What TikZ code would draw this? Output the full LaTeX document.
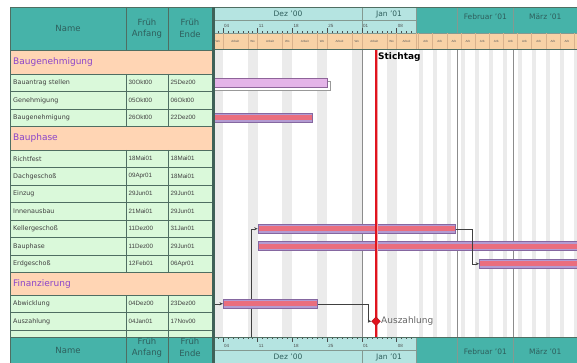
\documentclass[tikz,border=0pt]{standalone}
\usepackage{fontspec}
\setmainfont{DejaVu Sans}
\newfontfamily\datefont{Liberation Sans}
\usetikzlibrary{arrows.meta, positioning, shapes.geometric}

\definecolor{hdrteal}{HTML}{46B3A9}
\definecolor{lightteal}{HTML}{B5E4E1}
\definecolor{grppeach}{HTML}{FFD5B4}
\definecolor{taskgreen}{HTML}{DAF9DA}
\definecolor{dayorange}{HTML}{F8D2A6}
\definecolor{gridline}{HTML}{4F6E62}
\definecolor{splitter}{HTML}{3F6158}
\definecolor{grpviolet}{HTML}{8B45C9}
\definecolor{hdrtxt}{HTML}{2E5E5C}
\definecolor{weekendgrey}{HTML}{EBEBEB}
\definecolor{barlav}{HTML}{E4B4E8}
\definecolor{barline}{HTML}{8E6499}
\definecolor{critlav}{HTML}{B39BD2}
\definecolor{critline}{HTML}{8567A0}
\definecolor{critred}{HTML}{EA6E7E}
\definecolor{deadred}{HTML}{E0141E}

\begin{document}
\begin{tikzpicture}[
    x=1pt, y=-1pt,
    cellline/.style={draw=gridline, line width=0.7pt},
    hdrline/.style={draw=gridline!70, line width=0.6pt},
    hdrtext/.style={text=hdrtxt, font=\fontsize{8.5}{11.5}\selectfont, align=center, inner sep=0pt},
    grptext/.style={text=grpviolet, font=\fontsize{9}{10}\selectfont, anchor=west, inner sep=0pt},
    tasktext/.style={text=black!75, font=\fontsize{6.4}{8}\selectfont, anchor=west, inner sep=0pt},
    datetext/.style={text=black!75, font=\datefont\fontsize{6.2}{7}\selectfont, anchor=west, inner sep=0pt},
    monthtext/.style={text=hdrtxt, font=\fontsize{7.5}{9}\selectfont, inner sep=0pt},
    daynum/.style={text=black!70, font=\datefont\fontsize{4.5}{5}\selectfont, inner sep=0pt},
    dayabbr/.style={text=black!65, font=\datefont\fontsize{3}{3}\selectfont, inner sep=0pt},
    tick/.style={draw=black!70, line width=0.4pt},
    daydiv/.style={draw=brown!60, line width=0.4pt},
    monthline/.style={draw=black!45, line width=0.8pt},
    bar/.style={rectangle, draw=barline, fill=barlav, line width=0.6pt, minimum height=9pt, inner sep=0pt, anchor=west},
    critbar/.style={bar, draw=critline, fill=critlav,
      path picture={\fill[critred] ([yshift=-2.4pt]path picture bounding box.west) rectangle ([yshift=2.4pt]path picture bounding box.east);}},
    link/.style={draw=black!75, line width=0.5pt, -{Stealth[length=3.5pt, width=3pt]}},
    milestone/.style={diamond, fill=deadred, draw=deadred!80!black, minimum size=9pt, inner sep=0pt},
    deadline/.style={draw=deadred, line width=1.4pt, preaction={draw=deadred!40, line width=3pt}},
    stichtext/.style={font=\bfseries\fontsize{9}{10}\selectfont, anchor=west, inner sep=0pt}
  ]
    \useasboundingbox (0,0) rectangle (577,363);

    % table header
    \draw[cellline, fill=hdrteal] (10,7) rectangle (212,50.5);
    \draw[cellline] (126,7) -- (126,50.5) (168,7) -- (168,50.5);
    \node[hdrtext] (hdrname) at (68,28.5) {Name};
    \node[hdrtext] (hdrstart) at (147,28.5) {Früh\\Anfang};
    \node[hdrtext] (hdrend) at (190,28.5) {Früh\\Ende};

    % group rows
    \foreach \y/\h/\gname [count=\i] in {62.25/11.75/Baugenehmigung, 138.25/11.75/Bauphase, 283.75/11.25/Finanzierung} {
      \draw[cellline, fill=grppeach] (10,\y-\h) rectangle (212,\y+\h);
      \node[grptext] (group\i) at (13,\y) {\gname};
    }

    % task rows
    \foreach \y/\tname/\tstart/\tend [count=\i] in {
        82.75/Bauantrag stellen/30Okt00/25Dez00,
        100.25/Genehmigung/05Okt00/06Okt00,
        117.75/Baugenehmigung/26Okt00/22Dez00,
        158.75/Richtfest/18Mai01/18Mai01,
        176.25/Dachgeschoß/09Apr01/18Mai01,
        193.75/Einzug/29Jun01/29Jun01,
        211.25/Innenausbau/21Mai01/29Jun01,
        228.75/Kellergeschoß/11Dez00/31Jan01,
        246.25/Bauphase/11Dez00/29Jun01,
        263.75/Erdgeschoß/12Feb01/06Apr01,
        303.75/Abwicklung/04Dez00/23Dez00,
        321.25/Auszahlung/04Jan01/17Nov00} {
      \draw[cellline, fill=taskgreen] (10,\y-8.75) rectangle (212,\y+8.75);
      \draw[cellline] (126,\y-8.75) -- (126,\y+8.75) (168,\y-8.75) -- (168,\y+8.75);
      \node[tasktext] (task\i) at (13,\y) {\tname};
      \node[datetext] (start\i) at (128.5,\y) {\tstart};
      \node[datetext] (end\i) at (170.5,\y) {\tend};
    }
    % row hidden under the lower header
    \draw[cellline, fill=taskgreen] (10,330) rectangle (212,347.5);
    \draw[cellline] (126,330) -- (126,347.5) (168,330) -- (168,347.5);

    % gantt body
    \begin{scope}
      \clip (215,49.5) rectangle (577,337);
      \fill[white] (215,49.5) rectangle (577,337);
      \foreach \n in {1,8,...,36}
        \fill[weekendgrey] ({208+4.964*\n},49.5) rectangle ++(9.93,287.5);
      \foreach \n in {43,50,...,120}
        \fill[weekendgrey] ({416.5+2.02*(\n-42)},49.5) rectangle ++(4.04,287.5);
      \foreach \mx in {362,457,513.6}
        \draw[monthline] (\mx,49.5) -- (\mx,337);

      % bars
      \draw[draw=black!40, fill=white, line width=0.5pt] (208,81.25) rectangle (330.6,90.25);
      \node[bar, minimum width=122.1pt] (bauantrag) at (205,82.75) {};
      \node[critbar, minimum width=107.2pt] (baugen) at (205,117.75) {};
      \node[critbar, minimum width=197.3pt] (keller) at (257.6,228.75) {};
      \node[critbar, minimum width=340pt] (bauph) at (257.6,246.25) {};
      \node[critbar, minimum width=120pt] (erd) at (479.1,263.75) {};

      \coordinate (hiddensrc) at (251,345);
      \draw[link] (hiddensrc) |- (keller.west);
      \draw[link] (keller.east) -- ++(17,0) |- (erd.west);

      \node[critbar, minimum width=94.3pt] (abw) at (222.9,303.75) {};
      \coordinate (abwsrc) at (214,303.75);
      \draw[link] (abwsrc) -- (abw.west);

      % Stichtag
      \draw[deadline] (376,49.5) -- (376,337);
      \node[stichtext] (stichtag) at (378,57) {Stichtag};

      \node[milestone] (ausz) at (376,321.25) {};
      \draw[link] (abw.east) -- ++(50,0) |- (ausz.west);
      \node[text=black!60, font=\fontsize{9}{10}\selectfont, anchor=west, inner sep=0pt] (auszlabel) at (381,321.25) {Auszahlung};
    \end{scope}

    % gantt header (top)
    \begin{scope}
      \clip (215,7) rectangle (577,49.5);
      \fill[lightteal] (215,7) rectangle (416.5,33);
      \fill[hdrteal] (416.5,7) rectangle (577,33);
      \fill[dayorange] (215,33) rectangle (577,49.5);
      \draw[hdrline] (215,20) -- (416.5,20);
      \foreach \mx in {362,416.5,457,513.6}
        \draw[hdrline] (\mx,7) -- (\mx,33);
      \draw[hdrline] (215,33) -- (577,33);
      \node[monthtext] (topdez) at (288,14) {Dez '00};
      \node[monthtext] (topjan) at (389,14) {Jan '01};
      \node[monthtext] (topfeb) at (485.3,17) {Februar '01};
      \node[monthtext] (topmar) at (545.3,17) {März '01};
      \foreach \n in {1,...,41}
        \draw[tick] ({208+4.964*\n},33) -- ++(0,-1.8);
      \foreach \n in {3,10,17,24,31,38}
        \draw[tick] ({208+4.964*\n},33) -- ++(0,-5);
      \foreach \n/\lab in {3/04,10/11,17/18,24/25,31/01,38/08}
        \node[daynum, anchor=west] (top\lab) at ({209+4.964*\n},25.5) {\lab};
      \foreach \n in {1,3,8,10,15,17,22,24,29,31,36,38,42}
        \draw[daydiv] ({208+4.964*\n},33) -- ++(0,16.5);
      \foreach \n in {43,50,...,120}
        \draw[daydiv] ({416.5+2.02*(\n-42)},33) -- ++(0,16.5);
      \foreach \n in {3,10,17,24,31}
        \node[dayabbr] (work\n) at ({208+4.964*(\n+2.5)},41.25) {Arbeit};
      \node[dayabbr] (work38) at ({208+4.964*40},41.25) {Arbeit};
      \foreach \n in {1,8,15,22,29,36}
        \node[dayabbr] (wknd\n) at ({208+4.964*(\n+1)},41.25) {Wo};
      \foreach \n in {43,50,...,113}
        \node[dayabbr] (week\n) at ({416.5+2.02*(\n-42+3.5)},41.25) {Arb};
    \end{scope}
    \draw[cellline] (215,49.5) -- (577,49.5);
    \draw[cellline] (10,7) -- (577,7);

    % lower headers
    \draw[cellline, fill=hdrteal] (10,337) rectangle (212,363);
    \draw[cellline] (126,337) -- (126,363) (168,337) -- (168,363);
    \node[hdrtext] (botname) at (68,350) {Name};
    \node[hdrtext] (botstart) at (147,347.5) {Früh\\Anfang};
    \node[hdrtext] (botend) at (190,347.5) {Früh\\Ende};

    \begin{scope}
      \clip (215,337) rectangle (577,363);
      \fill[lightteal] (215,337) rectangle (416.5,363);
      \fill[hdrteal] (416.5,337) rectangle (577,363);
      \draw[hdrline] (215,350) -- (416.5,350);
      \draw[hdrline] (362,350) -- (362,363);
      \foreach \mx in {416.5,457,513.6}
        \draw[hdrline] (\mx,337) -- (\mx,363);
      \foreach \n in {1,...,41}
        \draw[tick] ({208+4.964*\n},337) -- ++(0,1.8);
      \foreach \n in {3,10,17,24,31,38}
        \draw[tick] ({208+4.964*\n},337) -- ++(0,5);
      \foreach \n/\lab in {3/04,10/11,17/18,24/25,31/01,38/08}
        \node[daynum, anchor=west] (bot\lab) at ({209+4.964*\n},345.5) {\lab};
      \node[monthtext] (botdez) at (288,357) {Dez '00};
      \node[monthtext] (botjan) at (389,357) {Jan '01};
      \node[monthtext] (botfeb) at (485.3,351.5) {Februar '01};
      \node[monthtext] (botmar) at (545.3,351.5) {März '01};
    \end{scope}
    \draw[cellline] (215,337) -- (577,337);

    % splitter and left edge
    \fill[splitter] (212,7) rectangle (215,363);
    \draw[cellline] (10,7) -- (10,363);
  \end{tikzpicture}
\end{document}
